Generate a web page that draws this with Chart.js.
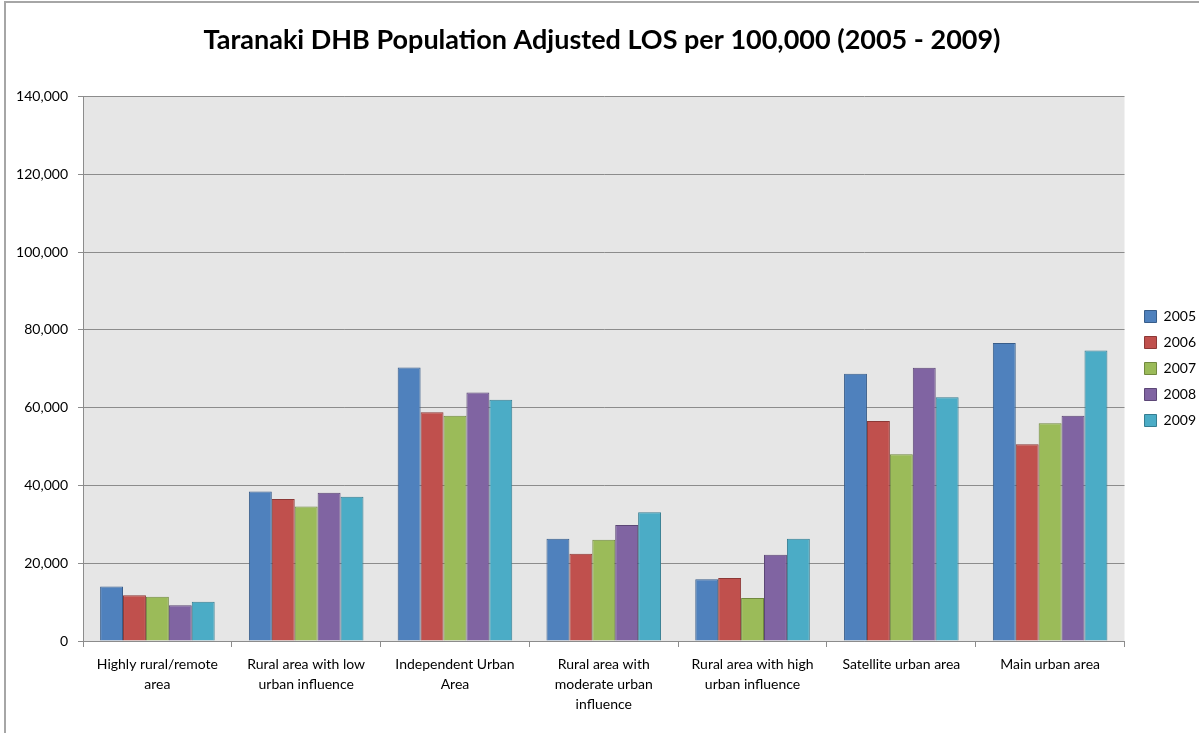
<!DOCTYPE html>
<html>
<head>
<meta charset="utf-8">
<script src="https://cdn.jsdelivr.net/npm/chart.js@4.4.0/dist/chart.umd.min.js"></script>
<style>
  html, body { margin: 0; padding: 0; background: #fff; overflow: hidden; }
  #frame { position: absolute; left: 4px; top: 1px; width: 1300px; height: 800px;
           border-left: 2px solid #a6a6a6; border-top: 2px solid #a6a6a6; }
  #wrap { position: absolute; left: 0; top: 0; width: 1199px; height: 733px; }
</style>
</head>
<body>
<div id="frame"></div>
<div id="wrap"><canvas id="myChart" width="1199" height="733"></canvas></div>
<script>
// categories (x axis)
const areas = [
  ['Highly rural/remote', 'area'],
  ['Rural area with low', 'urban influence'],
  ['Independent Urban', 'Area'],
  ['Rural area with', 'moderate urban', 'influence'],
  ['Rural area with high', 'urban influence'],
  'Satellite urban area',
  'Main urban area'
];

// LOS per 100,000 by year
const y2005 = [14000, 38400, 70300, 26300, 15900, 68700, 76600];
const y2006 = [11750, 36500, 58800, 22450, 16200, 56550, 50550];
const y2007 = [11400, 34600, 57900, 26050, 11050, 48000, 55950];
const y2008 = [9200, 38100, 63900, 29800, 22200, 70250, 57900];
const y2009 = [10100, 37100, 62000, 33100, 26300, 62650, 74700];

const yTicks = [0, 20000, 40000, 60000, 80000, 100000, 120000, 140000];

const plotBg = {
  id: 'plotBg',
  afterLayout(chart) {
    // nudge the legend block to where the original sits
    const lg = chart.legend;
    lg.left += 8; lg.right += 8;
    lg.top -= 4; lg.bottom -= 4;
  },
  beforeDraw(chart) {
    const a = chart.chartArea;
    const c = chart.ctx;
    c.save();
    c.fillStyle = '#e6e6e6';
    c.fillRect(a.left, a.top, a.right - a.left, a.bottom - a.top);
    c.restore();
  }
};

function ds(label, data, fill, line) {
  return {
    label: label,
    data: data,
    backgroundColor: fill,
    borderColor: line,
    borderWidth: 1,
    categoryPercentage: 0.77,
    barPercentage: 1.0
  };
}

const data = {
  labels: areas,
  datasets: [
    ds('2005', y2005, '#4f81bd', '#385d8a'),
    ds('2006', y2006, '#c0504d', '#8c3836'),
    ds('2007', y2007, '#9bbb59', '#71893f'),
    ds('2008', y2008, '#8064a2', '#5c4776'),
    ds('2009', y2009, '#4bacc6', '#357d91')
  ]
};

const config = {
  type: 'bar',
  data: data,
  plugins: [plotBg],
  options: {
    responsive: false,
    animation: false,
    layout: { padding: { top: 12, left: 6, right: 1, bottom: 0 } },
    plugins: {
      title: {
        display: true,
        text: 'Taranaki DHB Population Adjusted LOS per 100,000 (2005 - 2009)',
        color: '#000',
        font: { family: 'Lato', size: 27, weight: 'bold' },
        padding: { top: 12, bottom: 40 }
      },
      legend: {
        position: 'right',
        align: 'center',
        labels: {
          color: '#000',
          boxWidth: 12,
          boxHeight: 12,
          padding: 12,
          font: { family: 'Lato', size: 14 }
        }
      },
      tooltip: { enabled: false }
    },
    scales: {
      x: {
        grid: {
          display: true,
          drawOnChartArea: false,
          drawTicks: true,
          tickLength: 6,
          color: '#8c8c8c'
        },
        border: { color: '#8c8c8c' },
        ticks: {
          color: '#000',
          maxRotation: 0,
          autoSkip: false,
          padding: 8,
          font: { family: 'Lato', size: 14, lineHeight: 1.4 }
        },
        afterFit(scale) { scale.height = 92; }
      },
      y: {
        min: 0,
        max: 140000,
        afterBuildTicks(scale) { scale.ticks = yTicks.map(v => ({ value: v })); },
        grid: { color: '#8c8c8c', tickLength: 5 },
        border: { color: '#8c8c8c' },
        ticks: {
          color: '#000',
          padding: 10,
          font: { family: 'Lato', size: 14 },
          callback: v => v.toLocaleString('en-US')
        },
        afterFit(scale) { scale.width = 77; }
      }
    }
  }
};

new Chart(document.getElementById('myChart'), config);
</script>
</body>
</html>
